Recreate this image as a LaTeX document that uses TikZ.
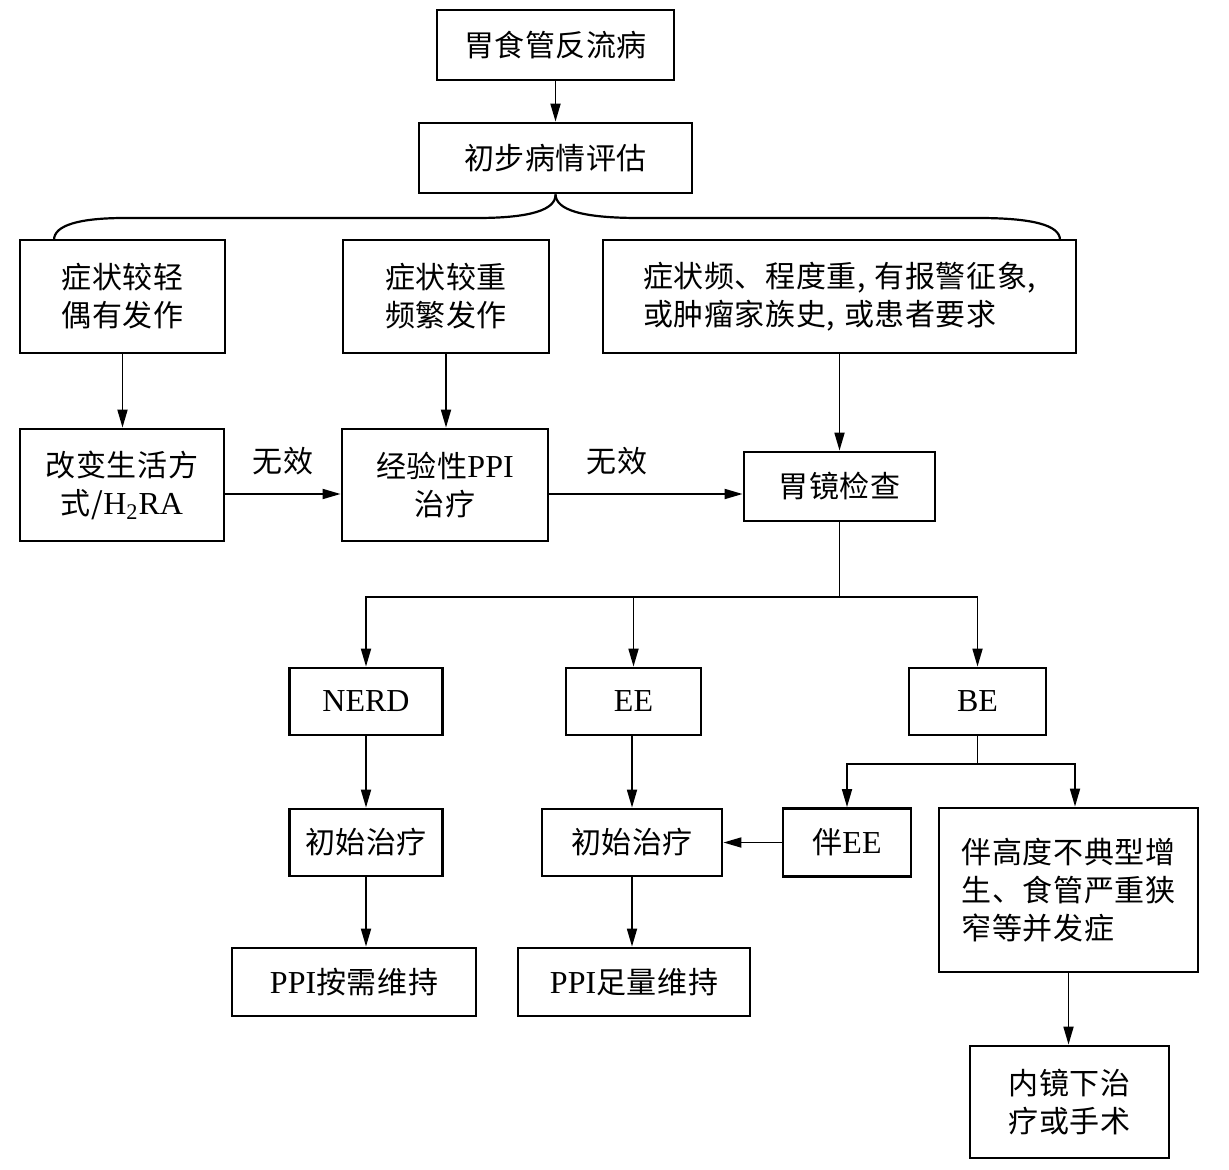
\documentclass[tikz,border=0pt]{standalone}
\usepackage{fontspec}
\setmainfont{Liberation Serif}
\newfontfamily\cjk[LetterSpace=2]{Noto Sans CJK SC}
\newcommand\latinpart[1]{{\rmfamily\fontsize{16pt}{19pt}\selectfont #1}}
\newcommand\cjkcomma{{,}\hspace{0.3em}}
\usetikzlibrary{arrows.meta}

\begin{document}
\begin{tikzpicture}[x=0.5pt,y=-0.5pt,
  box/.style={draw, line width=1.4pt, inner sep=0pt, align=center,
    font=\fontsize{15pt}{19pt}\selectfont\cjk},
  conn/.style={line width=0.9pt},
  arr/.style={conn, -{Triangle[length=9pt,width=5pt]}},
  lbl/.style={font=\fontsize{15pt}{19pt}\selectfont\cjk, inner sep=0pt}]
\useasboundingbox (0,0) rectangle (1229,1170);

% top of the chart
\node[box, minimum width=118.5pt, minimum height=35pt] (A) at (555.5,45) {胃食管反流病};
\node[box, minimum width=136.5pt, minimum height=35pt] (B) at (555.5,158) {初步病情评估};

% three symptom groups
\node[box, minimum width=102.5pt, minimum height=56.5pt] (C1) at (122.5,296.5) {症状较轻\\偶有发作};
\node[box, minimum width=103pt, minimum height=56.5pt] (C2) at (446,296.5) {症状较重\\频繁发作};
\node[box, minimum width=236.5pt, minimum height=56.5pt, align=left] (C3) at (839.5,296.5)
  {症状频、程度重\cjkcomma 有报警征象\cjkcomma\\或肿瘤家族史\cjkcomma 或患者要求};

% first-line measures
\node[box, minimum width=102pt, minimum height=56pt] (D1) at (122,485) {改变生活方\\式/\latinpart{H\textsubscript{2}RA}};
\node[box, minimum width=103pt, minimum height=56pt] (D2) at (445,485) {经验性\latinpart{PPI}\\治疗};
\node[box, minimum width=95.5pt, minimum height=34.5pt] (E) at (839.5,486.5) {胃镜检查};

% endoscopic findings
\node[box, minimum width=76.5pt, minimum height=33.5pt] (F1) at (366,701.5) {\latinpart{NERD}};
\node[box, minimum width=67.5pt, minimum height=33.5pt] (F2) at (633.5,701.5) {\latinpart{EE}};
\node[box, minimum width=68.5pt, minimum height=33.5pt] (F3) at (977.5,701.5) {\latinpart{BE}};

% treatment
\node[box, minimum width=76.5pt, minimum height=33.5pt] (G1) at (366,842.5) {初始治疗};
\node[box, minimum width=90pt, minimum height=33.5pt] (G2) at (632,842.5) {初始治疗};
\node[box, minimum width=64pt, minimum height=34pt] (H1) at (847,842.5) {伴\latinpart{EE}};
\node[box, minimum width=129.5pt, minimum height=82pt, align=left] (H2) at (1068.5,890)
  {伴高度不典型增\\生、食管严重狭\\窄等并发症};

% maintenance and surgery
\node[box, minimum width=122pt, minimum height=34pt] (I1) at (354,982) {\latinpart{PPI}按需维持};
\node[box, minimum width=116pt, minimum height=34pt] (I2) at (634,982) {\latinpart{PPI}足量维持};
\node[box, minimum width=99.5pt, minimum height=56pt] (J) at (1069.5,1102) {内镜下治\\疗或手术};

% helper coordinates for routed connectors
\coordinate (bl) at (54,240);
\coordinate (br) at (1060,240);
\coordinate (rowD) at (0,494);
\coordinate (split1) at (0,597);
\coordinate (split2) at (0,764);
\coordinate (h2in) at (1075,0);

% connectors
\draw[arr] (A.south) -- (B.north);

\draw[conn, line width=1.1pt] (B.south) .. controls (556,210) and (530,218) .. (477,218)
  -- (125,218) .. controls (80,218) and (54,225) .. (bl);
\draw[conn, line width=1.1pt] (B.south) .. controls (556,210) and (582,218) .. (639,218)
  -- (978,218) .. controls (1032,218) and (1060,225) .. (br);

\draw[arr] (C1.south) -- (C1.south |- D1.north);
\draw[arr] (C2.south) -- (C2.south |- D2.north);
\draw[arr] (C3.south) -- (E.north);

\draw[arr] (D1.east |- rowD) -- node[lbl, above=9pt] (l1) {无效} (D2.west |- rowD);
\draw[arr] (D2.east |- rowD) -- node[lbl, above=9pt, pos=0.35] (l2) {无效} (E.west |- rowD);

\draw[conn] (E.south) -- (E.south |- split1);
\draw[arr] (E.south |- split1) -| (F1.north);
\draw[arr] (E.south |- split1) -| (F3.north);
\draw[arr] (F2.north |- split1) -- (F2.north);

\draw[arr] (F1.south) -- (G1.north);
\draw[arr] (G2.north |- F2.south) -- (G2.north);
\draw[arr] (G1.south) -- (G1.south |- I1.north);
\draw[arr] (G2.south) -- (G2.south |- I2.north);

\draw[conn] (F3.south) -- (F3.south |- split2);
\draw[arr] (F3.south |- split2) -| (H1.north);
\draw[arr] (F3.south |- split2) -| (h2in |- H2.north);
\draw[arr] (H1.west) -- (H1.west -| G2.east);
\draw[arr] (H2.south) -- (H2.south |- J.north);
\end{tikzpicture}
\end{document}
